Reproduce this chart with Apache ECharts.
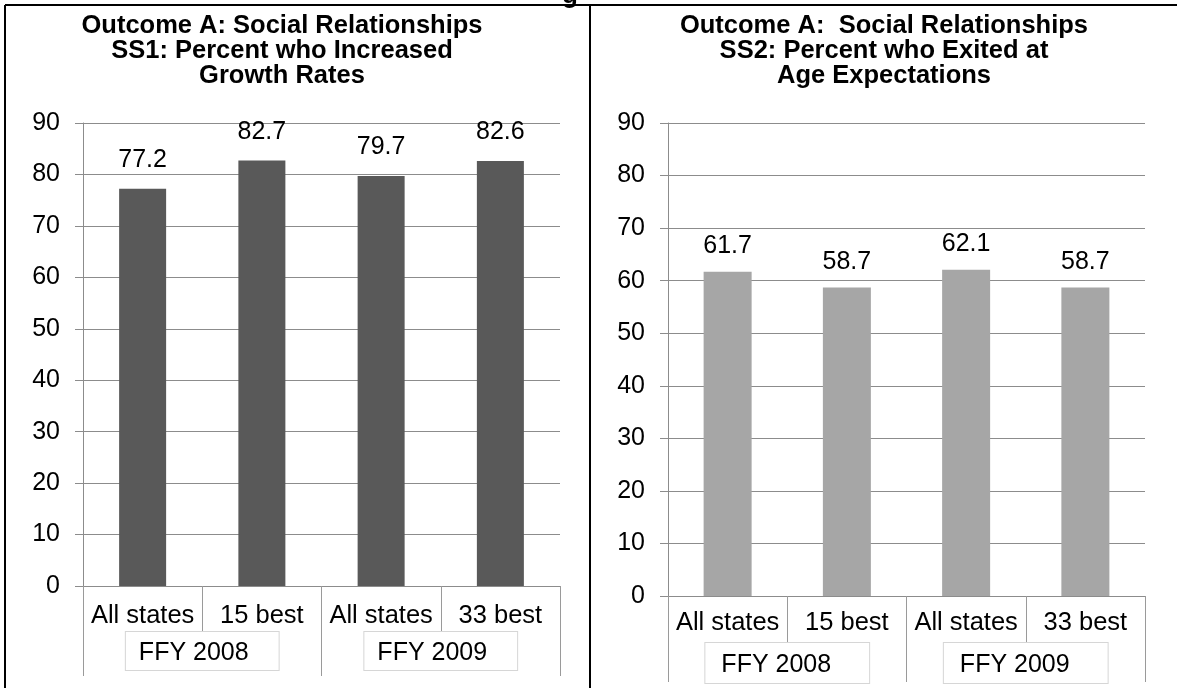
<!DOCTYPE html>
<html>
<head>
<meta charset="utf-8">
<title>Outcome A: Social Relationships</title>
<script src="https://cdn.jsdelivr.net/npm/echarts@6/dist/echarts.min.js"></script>
<style>
  html, body { margin: 0; padding: 0; background: #fff; }
  #chart { width: 1177px; height: 688px; }
</style>
</head>
<body>
<div id="chart"></div>
<script>
// Categories shared by both panels
const categories = ['All states', '15 best', 'All states', '33 best'];
const groups = ['FFY 2008', 'FFY 2009'];
const yTicks = [0, 10, 20, 30, 40, 50, 60, 70, 80, 90];

// SS1: percent who increased growth rates
const ss1Values = [77.2, 82.7, 79.7, 82.6];
// SS2: percent who exited at age expectations
const ss2Values = [61.7, 58.7, 62.1, 58.7];

const ss1Title = 'Outcome A: Social Relationships\nSS1: Percent who Increased\nGrowth Rates';
const ss2Title = 'Outcome A:  Social Relationships\nSS2: Percent who Exited at\nAge Expectations';

const FONT = '"Liberation Sans", Arial, Helvetica, sans-serif';
const GRID_GRAY = '#8c8c8c';
const SEP_GRAY = '#9a9a9a';

const chart = echarts.init(document.getElementById('chart'), null, { renderer: 'canvas' });

function yAxisFor(gridIndex) {
  return {
    type: 'value', gridIndex: gridIndex,
    min: yTicks[0], max: yTicks[yTicks.length - 1], interval: yTicks[1] - yTicks[0],
    axisLine: { show: true, lineStyle: { color: GRID_GRAY, width: 1 } },
    axisTick: { show: true, length: 8, lineStyle: { color: GRID_GRAY } },
    splitLine: { show: true, lineStyle: { color: GRID_GRAY, width: 1 } },
    axisLabel: { fontFamily: FONT, fontSize: 25, color: '#000', margin: 23 }
  };
}

function catAxisFor(gridIndex, labelMargin, tickLen) {
  return {
    type: 'category', gridIndex: gridIndex, position: 'bottom', data: categories,
    boundaryGap: true,
    axisLine: { show: true, lineStyle: { color: GRID_GRAY, width: 1 } },
    axisTick: { show: true, interval: 0, alignWithLabel: false, length: tickLen,
                lineStyle: { color: SEP_GRAY } },
    axisLabel: { interval: 0, fontFamily: FONT, fontSize: 25.5, lineHeight: 25,
                 color: '#000', margin: labelMargin }
  };
}

function groupAxisFor(gridIndex, labelMargin, tickLen, pad) {
  return {
    type: 'category', gridIndex: gridIndex, position: 'bottom', offset: 0, data: groups,
    boundaryGap: true,
    axisLine: { show: false },
    axisTick: { show: true, interval: 0, length: tickLen, lineStyle: { color: SEP_GRAY } },
    splitLine: { show: false },
    axisLabel: { interval: 0, fontFamily: FONT, fontSize: 25, lineHeight: 24,
                 color: '#000', margin: labelMargin,
                 backgroundColor: '#fff', borderColor: '#d6d6d6', borderWidth: 1,
                 padding: pad }
  };
}

function barSeries(axisIndex, values, color, barWidth, labelDist) {
  return {
    type: 'bar', xAxisIndex: axisIndex, yAxisIndex: axisIndex === 0 ? 0 : 1,
    data: values, barWidth: barWidth,
    itemStyle: { color: color },
    label: { show: true, position: 'top', distance: labelDist,
             fontFamily: FONT, fontSize: 25, lineHeight: 25, color: '#000',
             formatter: p => p.value.toFixed(1) },
    silent: true, animation: false
  };
}

const titleStyle = { fontFamily: FONT, fontWeight: 'bold', fontSize: 25.5, lineHeight: 25, color: '#000' };

const option = {
  animation: false,
  backgroundColor: '#fff',
  title: [
    { text: ss1Title, left: 277, top: 8, textAlign: 'center', textStyle: titleStyle },
    { text: ss2Title, left: 879, top: 8, textAlign: 'center', textStyle: titleStyle }
  ],
  grid: [
    { left: 83, top: 123, width: 477, height: 463 },
    { left: 668, top: 123, width: 477, height: 473 }
  ],
  xAxis: [
    catAxisFor(0, 17, 46),
    catAxisFor(1, 14, 47),
    groupAxisFor(0, 46, 90, [9, 30, 5, 13]),
    groupAxisFor(1, 47, 86, [10, 38, 6, 16])
  ],
  yAxis: [yAxisFor(0), yAxisFor(1)],
  series: [
    barSeries(0, ss1Values, '#595959', 47, 16),
    barSeries(1, ss2Values, '#a6a6a6', 48, 13)
  ],
  graphic: [
    // page frame: top rule, outer left edge, divider between the two panels
    { type: 'line', shape: { x1: 5, y1: 5, x2: 1177, y2: 5 }, style: { stroke: '#000', lineWidth: 2 } },
    { type: 'line', shape: { x1: 5, y1: 5, x2: 5, y2: 688 }, style: { stroke: '#000', lineWidth: 2 } },
    { type: 'line', shape: { x1: 590, y1: 5, x2: 590, y2: 688 }, style: { stroke: '#000', lineWidth: 2 } },
    // tail of the page heading above the frame
    { type: 'text', x: 570, y: -17, style: { text: 'g', font: 'bold 26px ' + FONT, fill: '#000',
      textAlign: 'center', textVerticalAlign: 'top' } }
  ]
};

chart.setOption(option);
</script>
</body>
</html>
